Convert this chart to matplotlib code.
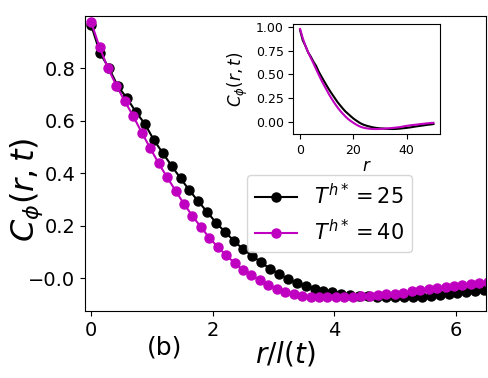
import numpy as np
import matplotlib
matplotlib.use("Agg")
import matplotlib.pyplot as plt

# Data: correlation values at integer r = 0..50
r_vals = np.arange(0, 51)
l_25 = 6.8
l_40 = 7.2
c_25 = [0.965, 0.858, 0.800, 0.731, 0.687, 0.634, 0.589, 0.528, 0.478, 0.429,
        0.381, 0.335, 0.293, 0.252, 0.211, 0.176, 0.142, 0.111, 0.086, 0.061,
        0.037, 0.017, -0.002, -0.018, -0.030, -0.039, -0.047, -0.054, -0.059, -0.063,
        -0.066, -0.068, -0.070, -0.072, -0.073, -0.073, -0.072, -0.070, -0.067, -0.064,
        -0.061, -0.057, -0.053, -0.048, -0.044, -0.040, -0.036, -0.032, -0.028, -0.025,
        -0.021]
c_40 = [0.976, 0.880, 0.800, 0.734, 0.674, 0.617, 0.555, 0.496, 0.438, 0.385,
        0.334, 0.283, 0.238, 0.195, 0.155, 0.119, 0.088, 0.058, 0.032, 0.011,
        -0.008, -0.026, -0.041, -0.053, -0.061, -0.066, -0.070, -0.072, -0.073, -0.073,
        -0.072, -0.070, -0.068, -0.066, -0.064, -0.061, -0.058, -0.055, -0.050, -0.045,
        -0.040, -0.036, -0.032, -0.029, -0.026, -0.022, -0.019, -0.016, -0.013, -0.010,
        -0.008]
labels = [r"$T^{h*}=25$", r"$T^{h*}=40$"]
colors = ["black", "#c000c0"]
main_xticks = [0, 2, 4, 6]
main_yticks = [0.0, 0.2, 0.4, 0.6, 0.8]
main_yticklabels = ["\u22120.0", "0.2", "0.4", "0.6", "0.8"]

fig = plt.figure(figsize=(4.89, 3.78), dpi=100)
ax = fig.add_axes([0.174, 0.177, 0.820, 0.781])

for c, l, lab, col in [(c_25, l_25, labels[0], colors[0]), (c_40, l_40, labels[1], colors[1])]:
    ax.plot(r_vals / l, c, "-o", color=col, ms=6.5, lw=1.5, label=lab)

ax.set_xlim(-0.1, 6.5)
ax.set_ylim(-0.125, 1.0)
ax.set_xticks(main_xticks)
ax.set_yticks(main_yticks)
ax.set_yticklabels(main_yticklabels)
ax.tick_params(labelsize=14)
ax.set_ylabel(r"$C_\phi(r,t)$", fontsize=23)
ax.yaxis.set_label_coords(-0.10, 0.41)
ax.set_xlabel(r"$r/l(t)$", fontsize=20, labelpad=0)
ax.legend(loc="upper left", bbox_to_anchor=(0.404, 0.461), borderaxespad=0,
          fontsize=15, handlelength=2)
fig.text(165 / 489, 1 - 347 / 378, "(b)", fontsize=18, ha="center", va="center")

ins = fig.add_axes([0.600, 0.6455, 0.300, 0.291])
ins.plot(r_vals, c_25, "-", color=colors[0], lw=1.5)
ins.plot(r_vals, c_40, "-", color=colors[1], lw=1.5)
ins.set_xticks([0, 20, 40])
ins.set_yticks([0.0, 0.25, 0.5, 0.75, 1.0])
ins.tick_params(labelsize=9)
ins.set_ylabel(r"$C_\phi(r,t)$", fontsize=12)
ins.set_xlabel(r"$r$", fontsize=12, labelpad=0)

fig.savefig("out.png", dpi=100)
